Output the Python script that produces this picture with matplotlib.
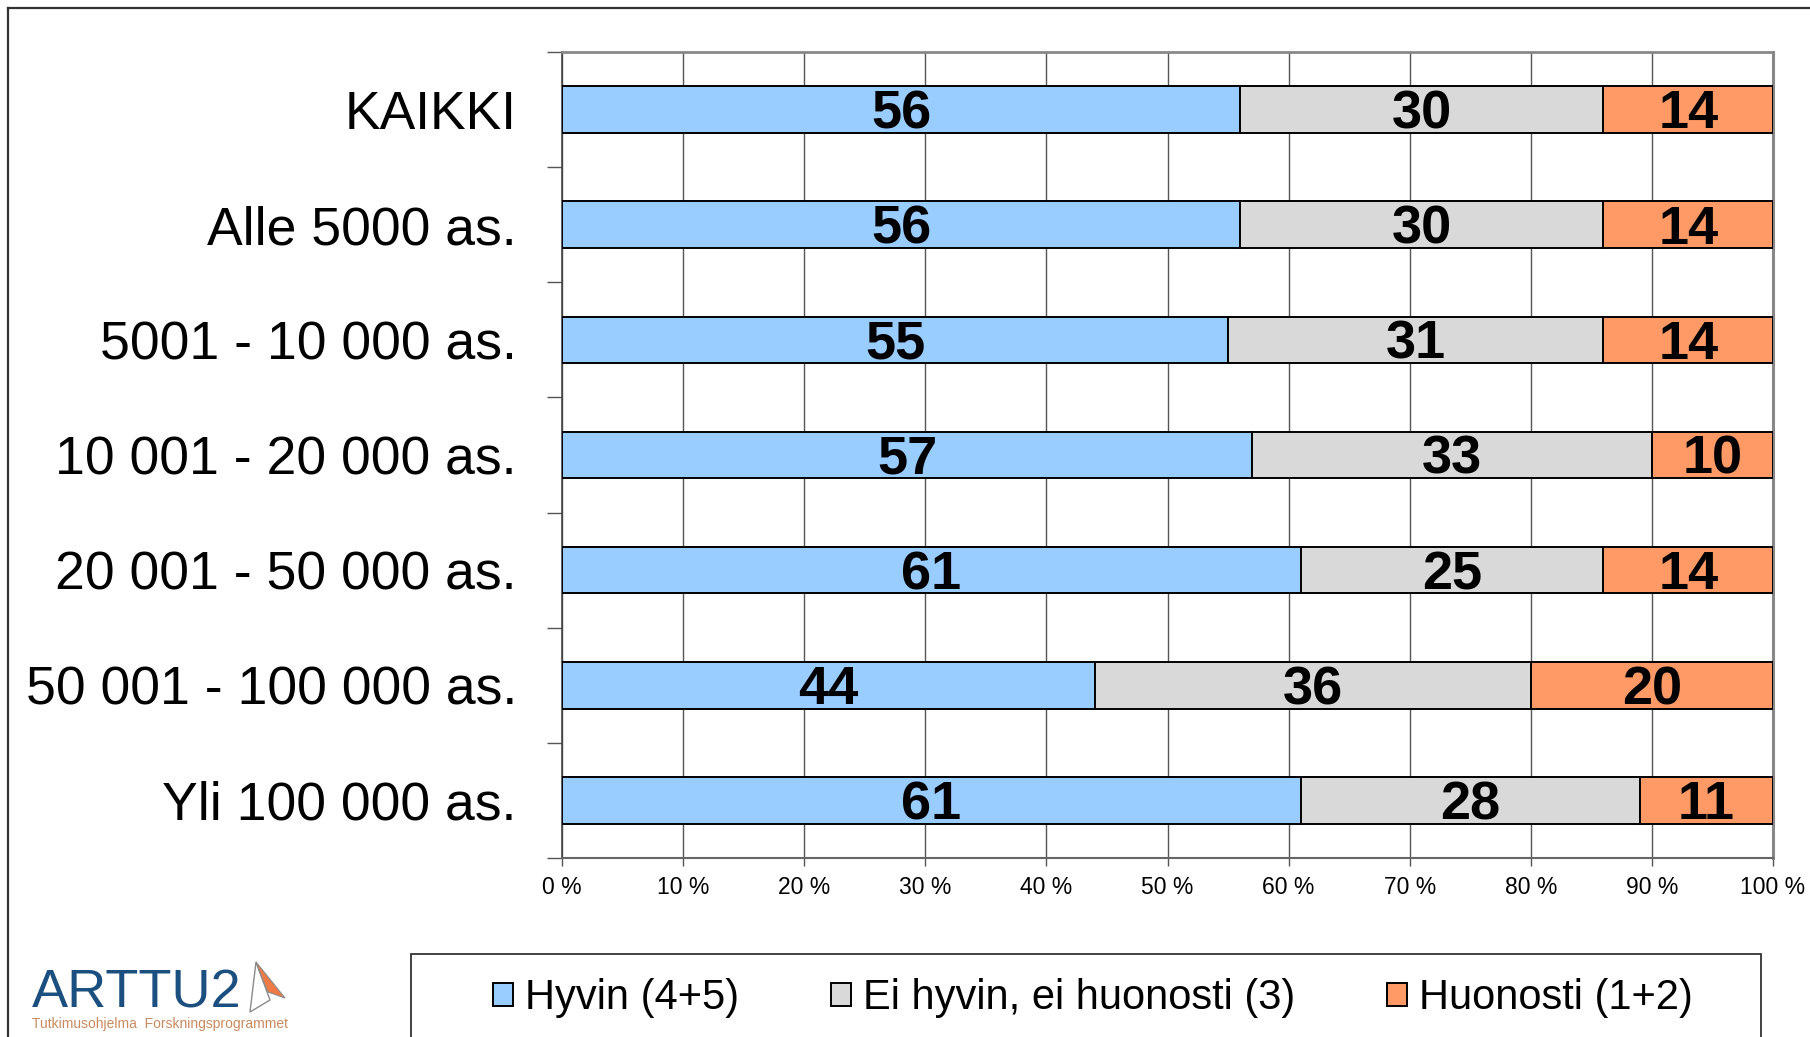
import matplotlib
matplotlib.use("Agg")
import matplotlib.pyplot as plt
from matplotlib.patches import Rectangle, Polygon
from matplotlib.lines import Line2D
import numpy as np

categories = ["KAIKKI", "Alle 5000 as.", "5001 - 10 000 as.", "10 001 - 20 000 as.",
              "20 001 - 50 000 as.", "50 001 - 100 000 as.", "Yli 100 000 as."]
hyvin = [56, 56, 55, 57, 61, 44, 61]
ei_hyvin = [30, 30, 31, 33, 25, 36, 28]
huonosti = [14, 14, 14, 10, 14, 20, 11]
series_names = ["Hyvin (4+5)", "Ei hyvin, ei huonosti (3)", "Huonosti (1+2)"]
colors = ["#99CCFF", "#D9D9D9", "#FF9966"]
xticks = [0, 10, 20, 30, 40, 50, 60, 70, 80, 90, 100]
xticklabels = [f"{v} %" for v in xticks]

plt.rcParams['font.family'] = ['Liberation Sans', 'DejaVu Sans']

W, H = 1810, 1037
fig = plt.figure(figsize=(W / 100, H / 100), dpi=100)
ax = fig.add_axes([562 / W, 1 - 858 / H, (1773 - 562) / W, 806 / H])

y = np.arange(len(categories))
left = np.zeros(len(categories))
bar_h = 0.405
for vals, col in zip([hyvin, ei_hyvin, huonosti], colors):
    vals = np.array(vals)
    ax.barh(y, vals, left=left, height=bar_h, color=col,
            edgecolor="black", linewidth=1.4, zorder=3)
    for yi, (l, v) in enumerate(zip(left, vals)):
        ax.annotate(str(v), xy=(l + v / 2, yi), xytext=(0, -3.5), textcoords="offset points",
                    ha="center", va="center", fontsize=39, fontweight="bold",
                    color="black", zorder=4)
    left = left + vals

ax.set_xlim(0, 100)
ax.set_ylim(len(categories) - 0.5, -0.5)

ax.set_xticks(xticks)
ax.set_xticklabels(xticklabels, fontsize=16.5)
ax.tick_params(axis="x", direction="out", length=6, width=1, color="#555555", pad=7)
ax.xaxis.grid(True, color="#555555", linewidth=1, zorder=0)

ax.set_yticks(y)
ax.set_yticklabels(categories, fontsize=38.5)
ax.tick_params(axis="y", which="major", length=0, pad=32.5)
ax.set_yticks(np.arange(-0.5, len(categories) + 0.5, 1), minor=True)
ax.tick_params(axis="y", which="minor", length=11, width=1, color="#555555")

ax.spines["top"].set_color("#888888")
ax.spines["top"].set_linewidth(2)
ax.spines["right"].set_color("#888888")
ax.spines["right"].set_linewidth(2.2)
ax.spines["left"].set_color("#444444")
ax.spines["left"].set_linewidth(1.2)
ax.spines["bottom"].set_color("#666666")
ax.spines["bottom"].set_linewidth(1.5)

# outer frame lines
fig.add_artist(Line2D([8 / W, 8 / W], [0, 1 - 8 / H], color="#333333", linewidth=1.6,
                      transform=fig.transFigure))
fig.add_artist(Line2D([8 / W, 1], [1 - 8 / H, 1 - 8 / H], color="#333333", linewidth=1.6,
                      transform=fig.transFigure))

# legend box
fig.add_artist(Rectangle((411 / W, -0.05), (1761 - 411) / W, 0.05 + 1 - 954 / H,
                         transform=fig.transFigure, facecolor="none",
                         edgecolor="#333333", linewidth=1.3, clip_on=False))
handles = [Rectangle((0, 0), 1, 1, facecolor=c, edgecolor="black", linewidth=1.4)
           for c in colors]
fig.legend(handles, series_names, loc="center", bbox_to_anchor=(1093 / W, 1 - 998 / H),
           ncol=3, frameon=False, fontsize=30, handlelength=0.47, handleheight=0.47,
           handletextpad=0.3, columnspacing=2.2, borderpad=0)

# logo
fig.text(32 / W, 1 - 1008 / H, "ARTTU2", fontsize=39, color="#1B4F80",
         ha="left", va="baseline")
fig.text(32 / W, 1 - 1024 / H, "Tutkimusohjelma  Forskningsprogrammet", fontsize=10,
         color="#C98A5E", ha="left", va="center")
fig.add_artist(Polygon([[250 / W, 1 - 1012 / H], [256 / W, 1 - 962 / H],
                        [270 / W, 1 - 1000 / H]],
                       closed=True, transform=fig.transFigure, facecolor="white",
                       edgecolor="#8a8a8a", linewidth=1.0))
fig.add_artist(Polygon([[256 / W, 1 - 962 / H], [285 / W, 1 - 998 / H],
                        [268 / W, 1 - 992 / H], [262 / W, 1 - 978 / H]],
                       closed=True, transform=fig.transFigure, facecolor="#F07A45",
                       edgecolor="#8a8a8a", linewidth=0.8))

fig.savefig("out.png", dpi=100)
